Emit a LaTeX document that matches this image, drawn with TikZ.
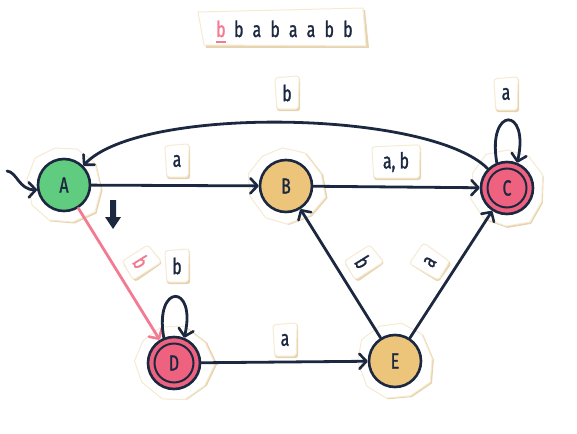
\documentclass[tikz,border=0pt]{standalone}
\usepackage{fontspec}
\newfontfamily\handfont{Fira Sans}[FakeStretch=0.72, FakeBold=1.2]
\usetikzlibrary{arrows.meta,calc,backgrounds}

\definecolor{ink}{RGB}{27,40,64}
\definecolor{startgreen}{RGB}{95,204,128}
\definecolor{midtan}{RGB}{236,196,122}
\definecolor{acceptpink}{RGB}{238,98,128}
\definecolor{tracepink}{RGB}{243,122,145}
\definecolor{paperedge}{RGB}{246,234,210}
\definecolor{papershade}{RGB}{230,212,176}

\tikzset{
  state/.style={circle, draw=ink, line width=2.6pt, minimum size=52pt, inner sep=0pt,
    font=\handfont\fontsize{22}{22}\selectfont, text=ink},
  edge/.style={draw=ink, line width=2.8pt, line cap=round,
    -{Straight Barb[length=7pt,width=15pt,line width=2.6pt,round]}},
  trace/.style={edge, draw=tracepink},
  lbl/.style={font=\handfont\fontsize{22}{22}\selectfont, text=ink, inner sep=0pt,
    minimum width=22pt, minimum height=32pt},
  paper/.style={fill=white, draw=paperedge, line width=1pt},
  papershadow/.style={fill=papershade},
}

% torn paper patch behind a state
\def\paperoutline{(-37,-6) -- (-29,-27) -- (-9,-37) -- (13,-36) -- (31,-22) -- (37,4) -- (31,27) -- (9,37) -- (-15,35) -- (-32,20) -- cycle}
\newcommand\statepaper[2]{%
  \begin{scope}[on background layer, shift={(#1)}, rotate=#2]
    \fill[papershadow, shift={(1.5,1.5)}] \paperoutline;
    \filldraw[paper] \paperoutline;
  \end{scope}}

% torn paper patch behind a label
\newcommand\labelpaper[1]{%
  \begin{scope}[on background layer]
    \fill[papershadow, rounded corners=3pt] ($(#1.north west)+(0,2)$) -- ($(#1.north east)+(2,0)$)
      -- ($(#1.south east)+(2,2)$) -- ($(#1.south west)+(1,2)$) -- cycle;
    \filldraw[paper, rounded corners=3pt] ($(#1.north west)+(-1,1)$) -- ($(#1.north east)+(1,-1)$)
      -- ($(#1.south east)+(0,0)$) -- ($(#1.south west)+(1,0)$) -- cycle;
  \end{scope}}

\begin{document}
\begin{tikzpicture}[x=1pt,y=-1pt]
\useasboundingbox (0,0) rectangle (577,433);

% input tape
\begin{scope}[on background layer]
  \fill[papershadow] (200,14) -- (365,10) -- (369,48) -- (206,48) -- cycle;
  \filldraw[paper] (198,12) -- (363,8) -- (366,46) -- (204,45) -- cycle;
\end{scope}
\node[font=\handfont\fontsize{22}{22}\selectfont, text=ink, anchor=base west, inner sep=0pt] (tape) at (216,37)
  {\addfontfeature{LetterSpace=42}{\color{tracepink}\rlap{\raisebox{-6pt}{\rule{10pt}{2.2pt}}}b}\kern8.5pt babaabb};

% states
\node[state, fill=startgreen] (A) at (64,185) {A};
\node[state, fill=midtan] (B) at (286,186) {B};
\node[state, fill=acceptpink] (C) at (507,188) {C};
\node[state, fill=acceptpink] (D) at (174,363) {D};
\node[state, fill=midtan] (E) at (395,361) {E};
\draw[ink, line width=2pt] (C) circle (19.5pt);
\draw[ink, line width=2pt] (D) circle (19.5pt);

\statepaper{A}{0}
\statepaper{B}{25}
\statepaper{C}{-15}
\statepaper{D}{40}
\statepaper{E}{10}

% initial arrow
\coordinate (init) at (7,171);
\draw[edge] (init) .. controls (17,172) and (19,190) .. (A.190);

% transitions
\draw[edge] (A) -- (B);
\draw[edge] (B) -- (C);
\draw[edge] (C.135) .. controls (430,110) and (140,105) .. (A.45);
\draw[edge] (C.112) .. controls (487,106) and (530,106) .. (C.68);
\draw[trace] (A) -- (D);
\draw[edge] (D.112) .. controls (154,283) and (197,283) .. (D.68);
\draw[edge] (D) -- (E);
\draw[edge] (E) -- (B);
\draw[edge] (E) -- (C);

% current-step marker
\fill[ink] (110,200) -- (116,200) -- (116,217) -- (121,217) -- (113,229) -- (105,217) -- (110,217) -- cycle;

% transition labels
\node[lbl] (lab) at (177,161) {a};
\node[lbl, minimum width=46pt] (lbc) at (396,162) {a, b};
\node[lbl] (lca) at (287,93) {b};
\node[lbl] (lcc) at (506,94) {a};
\node[lbl, text=tracepink, rotate=-58] (lad) at (141,262) {b};
\node[lbl] (ldd) at (177,266) {b};
\node[lbl] (lde) at (285,340) {a};
\node[lbl, rotate=-58] (leb) at (363,262) {b};
\node[lbl, rotate=57] (lec) at (430,262) {a};
\foreach \l in {lab,lbc,lca,lcc,lad,ldd,lde,leb,lec} {\labelpaper{\l}}
\end{tikzpicture}
\end{document}
